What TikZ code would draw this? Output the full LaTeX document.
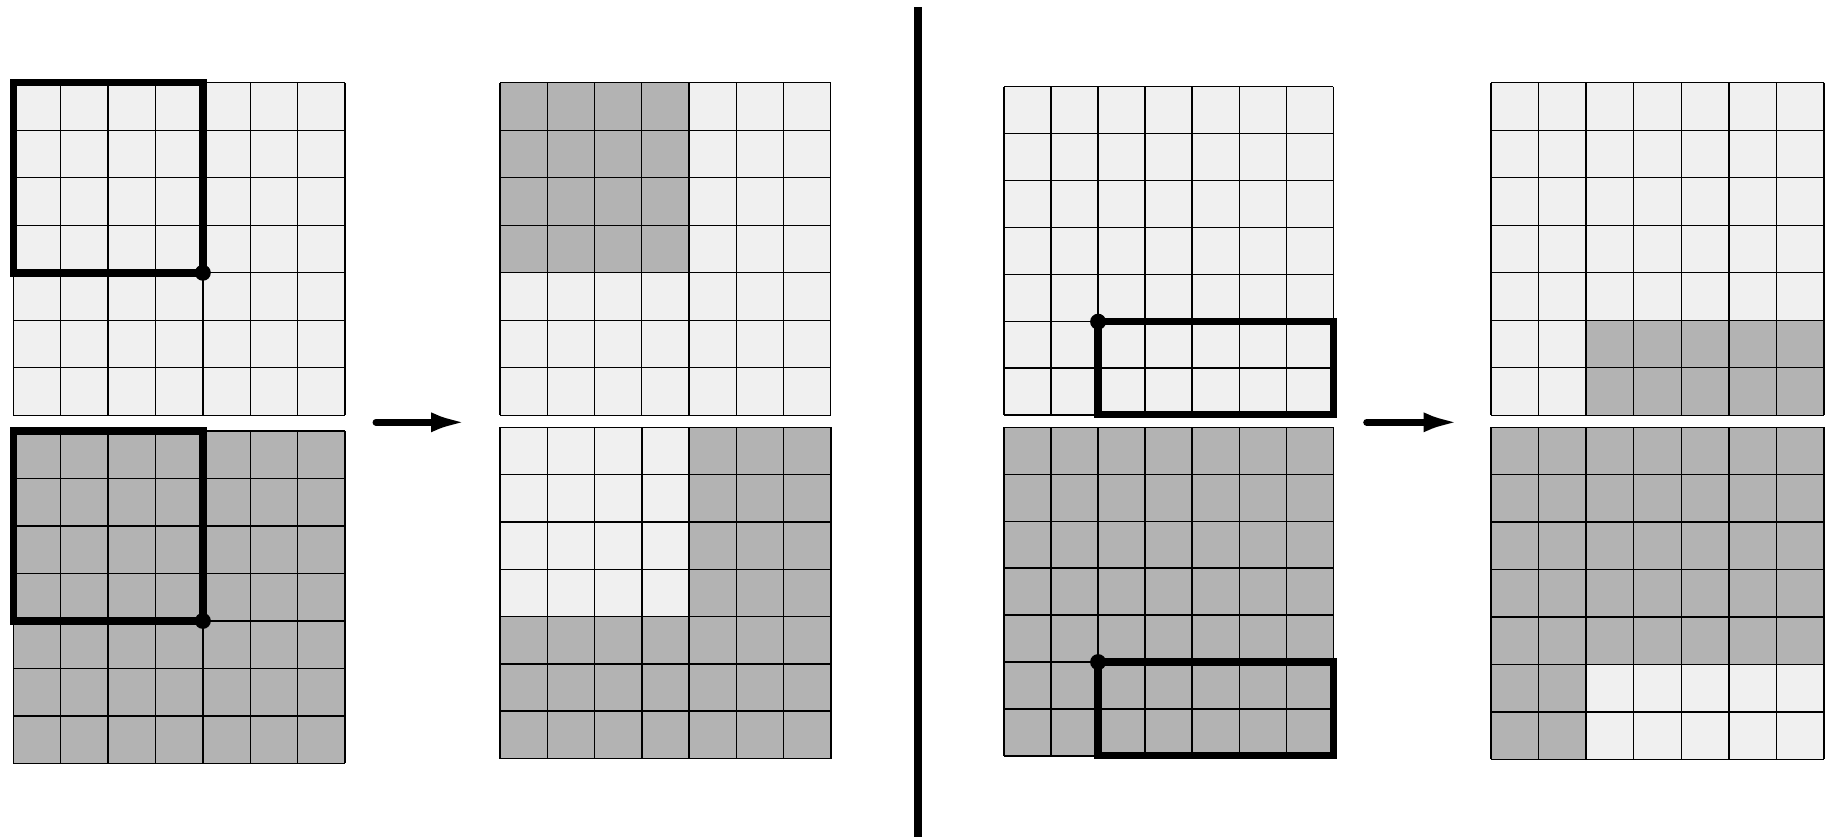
\documentclass[tikz,border=0pt]{standalone}
\usetikzlibrary{arrows.meta}
\definecolor{lightcell}{RGB}{240,240,240}
\definecolor{darkcell}{RGB}{179,179,179}
\tikzset{
  gridline/.style={draw=black,line width=1.4pt},
  thickbox/.style={draw=black,line width=7.5pt},
  cornerdot/.style={circle,fill=black,inner sep=0pt,minimum size=16pt},
  bigarrow/.style={line width=7pt,line cap=round,-{Latex[length=36pt,width=20pt]}},
  divider/.style={line width=7.5pt}
}
% #1 left, #2 top, #3 right, #4 bottom
\newcommand{\cellgrid}[4]{%
  \foreach \i in {0,...,7} {
    \draw[gridline] ({#1+(#3-#1)*\i/7},#2) -- ({#1+(#3-#1)*\i/7},#4);
    \draw[gridline] (#1,{#2+(#4-#2)*\i/7}) -- (#3,{#2+(#4-#2)*\i/7});
  }%
}
\begin{document}
\begin{tikzpicture}[x=1pt,y=-1pt]
\useasboundingbox (0,0) rectangle (1833,836);
\fill[white] (0,0) rectangle (1833,836);

% ---- Left half ----
% Grid 1 (all light)
\fill[lightcell] (13.3,82.7) rectangle (345,415.3);
\cellgrid{13.3}{82.7}{345}{415.3}
\draw[thickbox] (13.3,82.7) rectangle (202.84,272.76);
\node[cornerdot] (d1) at (202.84,272.76) {};

% Grid 2 (all dark)
\fill[darkcell] (13.3,431) rectangle (345,763.3);
\cellgrid{13.3}{431}{345}{763.3}
\draw[thickbox] (13.3,431) rectangle (202.84,620.9);
\node[cornerdot] (d2) at (202.84,620.9) {};

% Grid 3 (light, top-left 4x4 dark)
\fill[lightcell] (500,82.7) rectangle (830.7,415.3);
\fill[darkcell] (500,82.7) rectangle (688.97,272.76);
\cellgrid{500}{82.7}{830.7}{415.3}

% Grid 4 (dark, top-left 4x4 light)
\fill[darkcell] (500,427.3) rectangle (831,758.5);
\fill[lightcell] (500,427.3) rectangle (689.14,616.56);
\cellgrid{500}{427.3}{831}{758.5}

% Arrow 1
\coordinate (a1s) at (376,422.3);
\coordinate (a1e) at (467,422.3);
\draw[bigarrow] (a1s) -- (a1e);

% Divider
\coordinate (vtop) at (917.8,7.3);
\coordinate (vbot) at (917.8,840);
\draw[divider] (vtop) -- (vbot);

% ---- Right half ----
% Grid 5 (all light)
\fill[lightcell] (1004,86.7) rectangle (1333.3,415);
\cellgrid{1004}{86.7}{1333.3}{415}
\draw[thickbox] (1098.09,321.7) rectangle (1333.3,414.5);
\node[cornerdot] (d3) at (1098.09,321.7) {};

% Grid 6 (all dark)
\fill[darkcell] (1004,427.3) rectangle (1333.3,756);
\cellgrid{1004}{427.3}{1333.3}{756}
\draw[thickbox] (1098.09,662.1) rectangle (1333.3,755.5);
\node[cornerdot] (d4) at (1098.09,662.1) {};

% Grid 7 (light, bottom-right 5x2 dark)
\fill[lightcell] (1491,82.7) rectangle (1824,415.3);
\fill[darkcell] (1586.14,320.27) rectangle (1824,415.3);
\cellgrid{1491}{82.7}{1824}{415.3}

% Grid 8 (dark, bottom-right 5x2 light)
\fill[darkcell] (1491,427.3) rectangle (1824,759.3);
\fill[lightcell] (1586.14,664.46) rectangle (1824,759.3);
\cellgrid{1491}{427.3}{1824}{759.3}

% Arrow 2
\coordinate (a2s) at (1366.7,422.3);
\coordinate (a2e) at (1459.5,422.3);
\draw[bigarrow] (a2s) -- (a2e);
\end{tikzpicture}
\end{document}
